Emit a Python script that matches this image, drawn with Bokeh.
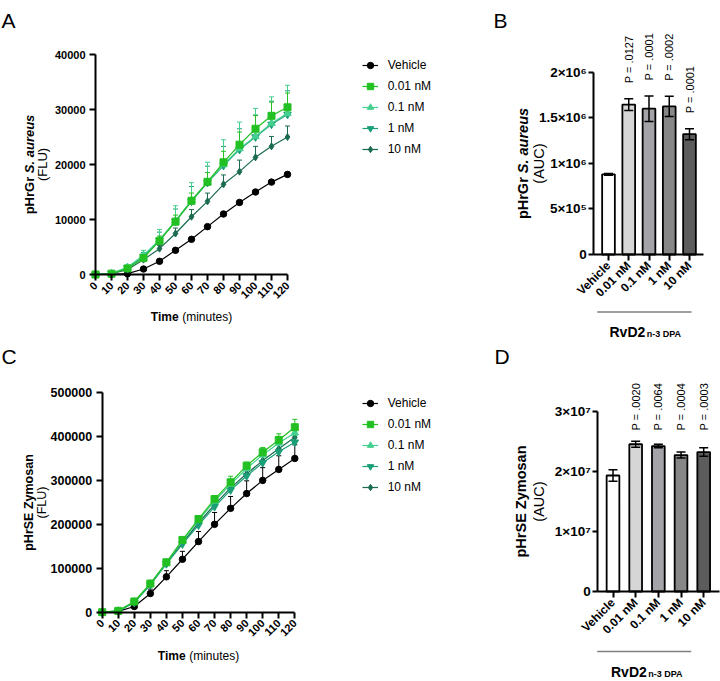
import math
from bokeh.plotting import figure
from bokeh.models import Range1d, FixedTicker, Label, Legend, LegendItem, Arrow
from bokeh.layouts import row, column
from bokeh.embed import file_html
from bokeh.resources import INLINE

FONT = "Liberation Sans"

# ---------------- data ----------------
time_min = [0, 10, 20, 30, 40, 50, 60, 70, 80, 90, 100, 110, 120]
time_ticks = [0, 10, 20, 30, 40, 50, 60, 70, 80, 90, 100, 110, 120]
groups = ["Vehicle", "0.01 nM", "0.1 nM", "1 nM", "10 nM"]

# Panel A: pHrGr S. aureus (FLU): mean and upper SEM
a_vehicle = [0, 50, 150, 1000, 2400, 4400, 6400, 8700, 11000, 13100, 15000, 16800, 18200]
a_001 = [0, 150, 1100, 3000, 6100, 9600, 13400, 16850, 20400, 23600, 26500, 28850, 30400]
a_01 = [0, 200, 1300, 3500, 6300, 9800, 13500, 16800, 20000, 22900, 25100, 27500, 29300]
a_1 = [0, 180, 1200, 3300, 6200, 9700, 13300, 16700, 19800, 22700, 25000, 27300, 29100]
a_10 = [0, 150, 900, 2700, 4700, 7450, 10500, 13300, 16400, 18700, 21300, 23300, 25000]
a_vehicle_err = [0, 20, 50, 100, 150, 200, 250, 300, 300, 350, 350, 400, 400]
a_001_err = [0, 50, 200, 500, 900, 1200, 1400, 1700, 2000, 2300, 2400, 2500, 2600]
a_01_err = [0, 80, 400, 900, 1900, 2700, 3200, 3600, 4500, 4800, 5100, 4800, 5100]
a_1_err = [0, 60, 300, 700, 1500, 2200, 2700, 3000, 3500, 3800, 4000, 4200, 4300]
a_10_err = [0, 40, 200, 400, 600, 1000, 1300, 1500, 1700, 2100, 2000, 1800, 2000]
a_yticks = [0, 10000, 20000, 30000, 40000]

# Panel C: pHrSE Zymosan (FLU): mean and upper SEM
c_vehicle = [0, 2000, 13000, 42500, 80500, 120500, 160700, 200000, 236400, 270000, 300000, 325000, 350000]
c_001 = [0, 3000, 24300, 65200, 113600, 164500, 212000, 257500, 295500, 333500, 364000, 392000, 421000]
c_01 = [0, 3000, 23800, 64500, 112500, 162000, 209000, 253000, 291000, 327000, 358000, 385000, 408000]
c_1 = [0, 2500, 22000, 62000, 110000, 155000, 198000, 240000, 278000, 310000, 340000, 365000, 387000]
c_10 = [0, 2500, 22500, 63000, 111000, 158000, 203000, 245000, 283000, 315000, 345000, 372000, 398000]
c_vehicle_err = [0, 500, 3000, 10000, 14000, 18000, 23000, 27000, 27000, 29000, 29000, 31000, 31000]
c_001_err = [0, 300, 2000, 4000, 5000, 6000, 8000, 8000, 14000, 8000, 11000, 14000, 18000]
c_01_err = [0, 300, 2000, 4000, 6000, 8000, 10000, 12000, 12000, 13000, 14000, 15000, 16000]
c_1_err = [0, 300, 2000, 4000, 6000, 9000, 11000, 13000, 14000, 15000, 16000, 17000, 18000]
c_10_err = [0, 300, 2000, 4000, 6000, 8000, 10000, 11000, 12000, 13000, 14000, 15000, 16000]
c_yticks = [0, 100000, 200000, 300000, 400000, 500000]

# Panel B: AUC, S. aureus
b_auc = [0.88e6, 1.645e6, 1.60e6, 1.625e6, 1.32e6]
b_sem = [0.01e6, 0.065e6, 0.14e6, 0.11e6, 0.06e6]
b_p = ["", "P = .0127", "P = .0001", "P = .0002", "P = .0001"]
b_yticks = [0, 500000, 1000000, 1500000, 2000000]
b_ylabels = ["0", "5×10⁵", "1×10⁶", "1.5×10⁶", "2×10⁶"]

# Panel D: AUC, Zymosan
d_auc = [1.93e7, 2.45e7, 2.42e7, 2.27e7, 2.32e7]
d_sem = [0.095e7, 0.05e7, 0.03e7, 0.05e7, 0.07e7]
d_p = ["", "P = .0020", "P = .0064", "P = .0004", "P = .0003"]
d_yticks = [0, 10000000, 20000000, 30000000]
d_ylabels = ["0", "1×10⁷", "2×10⁷", "3×10⁷"]

# ---------------- styles ----------------
line_colors = ["#000000", "#22c022", "#44d08f", "#1a9f78", "#1b6b4e"]
line_markers = ["circle", "square", "triangle", "inverted_triangle", "diamond"]
marker_sizes = [6.5, 7, 7.5, 7.5, 7]
bar_colors = ["#ffffff", "#d6d6d6", "#a4a4a8", "#878787", "#5c5c5c"]


class Geo:
    """Maps page pixels to data for a figure whose frame fills its whole canvas."""

    def __init__(self, ox, oy, w, h, xref, yref):
        (xa, pxa), (xb, pxb) = xref
        (ya, pya), (yb, pyb) = yref
        self.ox, self.oy, self.w, self.h = ox, oy, w, h
        self.sx = (pxb - pxa) / (xb - xa)
        self.sy = (pyb - pya) / (yb - ya)
        self.xa, self.pxa, self.ya, self.pya = xa, pxa, ya, pya
        self.xr = (self.dx(ox), self.dx(ox + w))
        self.yr = (self.dy(oy + h), self.dy(oy))

    def dx(self, px):
        return self.xa + (px - self.pxa) / self.sx

    def dy(self, py):
        return self.ya + (py - self.pya) / self.sy


def base_fig(g):
    p = figure(width=g.w, height=g.h, min_border=0, title=None,
               x_range=Range1d(*g.xr), y_range=Range1d(*g.yr),
               output_backend="svg", toolbar_location=None)
    p.outline_line_color = None
    p.xgrid.visible = False
    p.ygrid.visible = False
    p.background_fill_color = "white"
    p.border_fill_color = "white"
    return p


def style_axis(ax, size, tick=6, standoff=3):
    ax.axis_line_width = 2
    ax.axis_line_color = "black"
    ax.major_tick_line_width = 2
    ax.major_tick_line_color = "black"
    ax.major_tick_out = tick
    ax.major_tick_in = 0
    ax.minor_tick_out = 0
    ax.minor_tick_in = 0
    ax.major_label_text_font = FONT
    ax.major_label_text_font_style = "bold"
    ax.major_label_text_font_size = size
    ax.major_label_text_color = "black"
    ax.major_label_standoff = standoff


def add_text(p, g, px, py, text, size, style="normal", align="left",
             baseline="middle", angle=0.0):
    p.add_layout(Label(x=g.dx(px), y=g.dy(py), text=text, text_font=FONT,
                       text_font_size=f"{size}px", text_font_style=style,
                       text_align=align, text_baseline=baseline, angle=angle,
                       text_color="black"))


BOLD_W = {"p": .611, "H": .722, "r": .389, "G": .778, "S": .667, "E": .667, " ": .278,
          ".": .278, "a": .556, "u": .611, "e": .556, "s": .556, "Z": .611, "y": .556,
          "m": .889, "o": .611, "n": .611, "T": .611, "i": .278, "R": .722, "v": .556,
          "D": .722, "2": .556}


def em(text):
    return sum(BOLD_W.get(ch, 0.556) for ch in text)


def y_title(p, g, x1, x2, cy, bold_part, italic_part, second, size):
    w1 = em(bold_part) * size
    wsp = 0.278 * size
    w2 = em(italic_part) * size if italic_part else 0
    total = w1 + (wsp + w2 if italic_part else 0)
    start = cy + total / 2
    add_text(p, g, x1, start, bold_part, size, "bold", "left", "middle", math.pi / 2)
    if italic_part:
        add_text(p, g, x1, start - w1 - wsp, italic_part, size, "bold italic", "left",
                 "middle", math.pi / 2)
    add_text(p, g, x2, cy, second, size, "normal", "center", "middle", math.pi / 2)


def time_title(p, g, cx, cy, size=12):
    w1 = em("Time") * size
    wsp = 0.278 * size
    w2 = 4.167 * size
    start = cx - (w1 + wsp + w2) / 2
    add_text(p, g, start, cy, "Time", size, "bold", "left", "middle")
    add_text(p, g, start + w1 + wsp, cy, "(minutes)", size, "normal", "left", "middle")


def line_panel(g, means, errs, yticks, ytick_size, legend_px, letter, letter_xy,
               ytitle, time_cy):
    p = base_fig(g)
    items = [None] * len(groups)
    for i in [0, 4, 3, 2, 1]:
        m, e, col = means[i], errs[i], line_colors[i]
        top = [a + b for a, b in zip(m, e)]
        p.segment(x0=time_min, y0=m, x1=time_min, y1=top, line_color=col, line_width=1)
        p.scatter(x=time_min, y=top, marker="dash", size=5, line_color=col, line_width=1)
        lr = p.line(time_min, m, line_color=col, line_width=1.2)
        sr = p.scatter(time_min, m, marker=line_markers[i], size=marker_sizes[i],
                       fill_color=col, line_color=col)
        items[i] = LegendItem(label=groups[i], renderers=[lr, sr])
    style_axis(p.xaxis[0], "11px")
    style_axis(p.yaxis[0], ytick_size, tick=6, standoff=4)
    p.xaxis.ticker = FixedTicker(ticks=time_ticks)
    p.yaxis.ticker = FixedTicker(ticks=yticks)
    p.xaxis.major_label_orientation = math.pi / 4
    p.xaxis.fixed_location = 0
    p.yaxis.fixed_location = 0
    p.xaxis.bounds = (time_ticks[0], time_ticks[-1])
    p.yaxis.bounds = (yticks[0], yticks[-1])
    p.yaxis.formatter.use_scientific = False
    # legend inside the (full-canvas) frame
    gx, first_row_cy = legend_px
    legend_bottom = first_row_cy - 8 + 5 * 16 + 4 * 5
    leg = Legend(items=items, location=(gx - g.ox, g.oy + g.h - legend_bottom),
                 orientation="vertical", padding=0, spacing=5, glyph_width=16,
                 glyph_height=16, label_height=16, label_standoff=10,
                 label_text_font=FONT, label_text_font_size="12px",
                 label_text_color="black", label_text_baseline="middle",
                 border_line_alpha=0, background_fill_alpha=0, margin=0)
    p.add_layout(leg, "center")
    add_text(p, g, letter_xy[0], letter_xy[1], letter, 21, "normal", "left", "alphabetic")
    y_title(p, g, *ytitle)
    cx = g.pxa + (time_ticks[0] + time_ticks[-1]) / 2 * g.sx
    time_title(p, g, cx, time_cy)
    return p


def bar_panel(g, auc, sem, pvals, yticks, ylabels, axis_px, p_gap, p_uniform, letter,
              letter_xy, ytitle, bracket, rvd_xy):
    p = base_fig(g)
    xs = list(range(len(groups)))
    bar_w = 12.7 / g.sx
    p.vbar(x=xs, top=auc, bottom=0, width=bar_w, fill_color=bar_colors,
           line_color="black", line_width=1.8)
    lo = [a - s for a, s in zip(auc, sem)]
    hi = [a + s for a, s in zip(auc, sem)]
    p.segment(x0=xs, y0=lo, x1=xs, y1=hi, line_color="black", line_width=1.5)
    p.scatter(x=xs, y=hi, marker="dash", size=9, line_color="black", line_width=1.5)
    p.scatter(x=xs, y=lo, marker="dash", size=9, line_color="black", line_width=1.5)
    style_axis(p.xaxis[0], "12px", tick=6, standoff=3)
    style_axis(p.yaxis[0], "13.5px", tick=5, standoff=2)
    p.xaxis.ticker = FixedTicker(ticks=xs)
    p.xaxis.major_label_overrides = {x: lab for x, lab in zip(xs, groups)}
    p.xaxis.major_label_orientation = math.pi / 4
    p.yaxis.ticker = FixedTicker(ticks=yticks)
    p.yaxis.major_label_overrides = {t: lab for t, lab in zip(yticks, ylabels)}
    ax0, ax1 = g.dx(axis_px[0]), g.dx(axis_px[1])
    p.xaxis.fixed_location = 0
    p.xaxis.bounds = (ax0, ax1)
    p.yaxis.fixed_location = ax0
    p.yaxis.bounds = (yticks[0], yticks[-1])
    for i, txt in enumerate(pvals):
        if not txt:
            continue
        base = (max(hi) if p_uniform else hi[i]) + p_gap
        p.add_layout(Label(x=xs[i], y=base, text=txt, text_font=FONT,
                           text_font_size="11px", text_align="left",
                           text_baseline="middle", angle=math.pi / 2,
                           text_color="black"))
    add_text(p, g, letter_xy[0], letter_xy[1], letter, 21, "normal", "left", "alphabetic")
    y_title(p, g, *ytitle)
    bx0, bx1, by = bracket
    p.add_layout(Arrow(x_start=g.dx(bx0), y_start=g.dy(by), x_end=g.dx(bx1), y_end=g.dy(by),
                       start=None, end=None, line_color="#808080", line_width=1.5))
    rx, ry = rvd_xy
    add_text(p, g, rx, ry, "RvD2", 14, "bold", "left", "alphabetic")
    add_text(p, g, rx + em("RvD2") * 14 + 1.5, ry + 2.5, "n-3 DPA", 9, "bold", "left",
             "alphabetic")
    return p


geoA = Geo(0, 0, 462, 340, ((0, 95), (120, 287)), ((0, 274), (40000, 54)))
geoB = Geo(462, 0, 258, 340, ((0, 608), (4, 689)), ((0, 254), (2e6, 71.7)))
geoC = Geo(0, 340, 462, 340, ((0, 101.7), (120, 294.3)), ((0, 611.7), (500000, 392)))
geoD = Geo(462, 340, 258, 340, ((0, 612.5), (4, 703.2)), ((0, 591), (3e7, 410.7)))

pA = line_panel(geoA, [a_vehicle, a_001, a_01, a_1, a_10],
                [a_vehicle_err, a_001_err, a_01_err, a_1_err, a_10_err],
                a_yticks, "11px", (361.7, 65), "A", (1, 20),
                (28.5, 41.5, 164, "pHrGr", "S. aureus", "(FLU)", 13), 316.7)
pC = line_panel(geoC, [c_vehicle, c_001, c_01, c_1, c_10],
                [c_vehicle_err, c_001_err, c_01_err, c_1_err, c_10_err],
                c_yticks, "12.5px", (361.7, 403.3), "C", (1, 356),
                (28.5, 41.5, 502, "pHrSE Zymosan", "", "(FLU)", 12.5), 655)
pB = bar_panel(geoB, b_auc, b_sem, b_p, b_yticks, b_ylabels, (593.3, 703.3), 0.17e6, False,
               "B", (493, 20), (522, 538, 163, "pHrGr", "S. aureus", "(AUC)", 14.5),
               (596.7, 691, 311.5), (609, 331))
pD = bar_panel(geoD, d_auc, d_sem, d_p, d_yticks, d_ylabels, (597.3, 719), 0.18e7, True,
               "D", (494, 356), (520, 538.5, 501, "pHrSE Zymosan", "", "(AUC)", 14.5),
               (596.7, 690.7, 651), (610.5, 671))

layout = column(row(pA, pB), row(pC, pD))
open("out.html", "w").write(file_html(layout, INLINE))
